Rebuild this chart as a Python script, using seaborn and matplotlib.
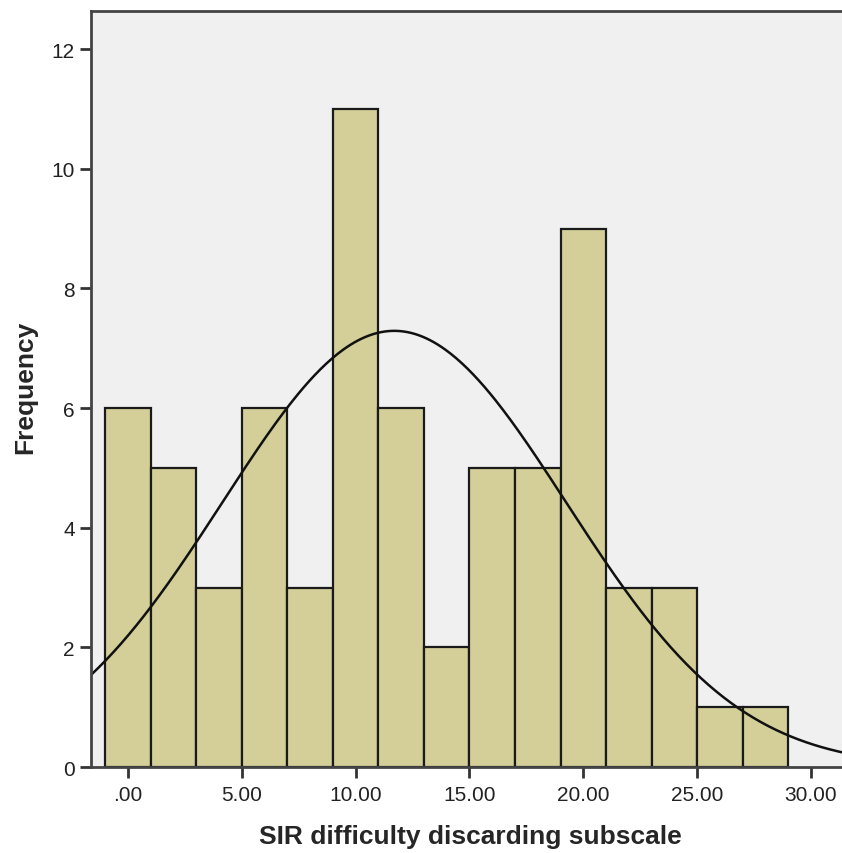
import numpy as np
import pandas as pd
import matplotlib
matplotlib.use("Agg")
import matplotlib.pyplot as plt
import seaborn as sns

# bin centres (width 2) and frequencies
bin_centers = [0, 2, 4, 6, 8, 10, 12, 14, 16, 18, 20, 22, 24, 26, 28]
counts = [6, 5, 3, 6, 3, 11, 6, 2, 5, 5, 9, 3, 3, 1, 1]
bin_edges = [-1, 1, 3, 5, 7, 9, 11, 13, 15, 17, 19, 21, 23, 25, 27, 29]
# fitted normal curve parameters (estimated from the drawn curve)
curve_mean = 11.7
curve_sd = 7.55

x_ticks = [0, 5, 10, 15, 20, 25, 30]
x_tick_labels = [".00", "5.00", "10.00", "15.00", "20.00", "25.00", "30.00"]
y_ticks = [0, 2, 4, 6, 8, 10, 12]

sns.set_style("white")
plt.rcParams['font.family'] = ['Liberation Sans', 'DejaVu Sans']

df = pd.DataFrame({"score": bin_centers, "n": counts})

fig = plt.figure(figsize=(8.42, 8.54), dpi=100)
ax = fig.add_axes([0.108, 0.1007, 0.892, 0.8853])
ax.set_facecolor("#F0F0F0")

sns.histplot(data=df, x="score", weights="n", bins=bin_edges, ax=ax,
             color="#D4CF98", alpha=1.0, edgecolor="#1a1a1a", linewidth=1.6)

x_lo, x_hi = -1.62, 31.36
n_total = sum(counts)
width = bin_edges[1] - bin_edges[0]
xs = np.linspace(x_lo, x_hi, 400)
ys = n_total * width / (curve_sd * np.sqrt(2 * np.pi)) * np.exp(-0.5 * ((xs - curve_mean) / curve_sd) ** 2)
sns.lineplot(x=xs, y=ys, ax=ax, color="#111111", linewidth=1.8)

ax.set_xlim(x_lo, x_hi)
ax.set_ylim(0, 12.64)
ax.set_xticks(x_ticks)
ax.set_xticklabels(x_tick_labels)
ax.set_yticks(y_ticks)
ax.tick_params(axis="both", direction="out", length=8, width=2, color="#333333",
               labelsize=15, labelcolor="#222222", bottom=True, left=True)
ax.tick_params(axis="x", pad=5)

for side in ["left", "bottom", "top"]:
    ax.spines[side].set_color("#444444")
    ax.spines[side].set_linewidth(2)
ax.spines["right"].set_visible(False)

ax.set_xlabel("SIR difficulty discarding subscale", fontsize=19, fontweight="bold")
ax.set_ylabel("Frequency", fontsize=19, fontweight="bold")
ax.xaxis.set_label_coords(0.505, -0.076)
ax.yaxis.set_label_coords(-0.071, 0.503)

fig.savefig("out.png", dpi=100)
